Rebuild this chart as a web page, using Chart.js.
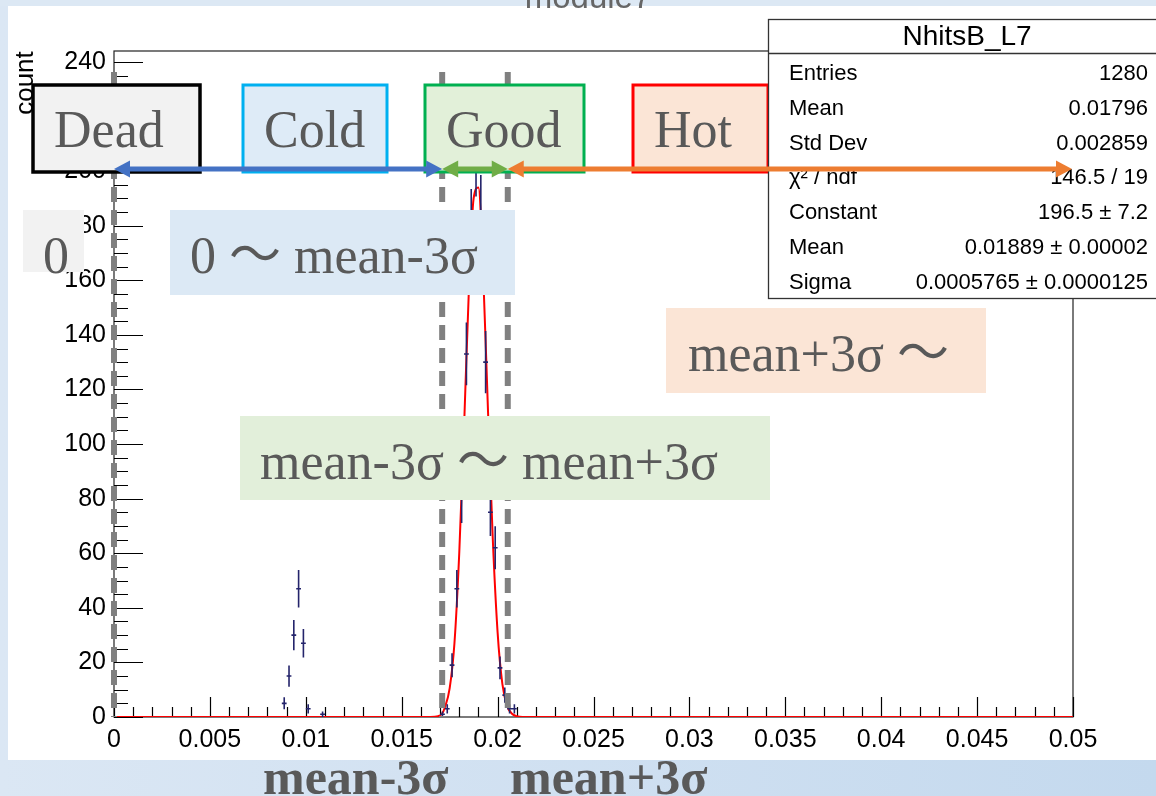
<!DOCTYPE html>
<html>
<head>
<meta charset="utf-8">
<script src="https://cdn.jsdelivr.net/npm/chart.js@4.4.1/dist/chart.umd.min.js"></script>
<style>
html,body{margin:0;padding:0;background:#dce8f4;overflow:hidden;}
#c{position:absolute;left:0;top:0;}
</style>
</head>
<body>
<canvas id="c" width="1156" height="796"></canvas>
<script>
// ---------------- DATA ----------------
const binWidth = 0.00025;
const binCenters = [0.008875, 0.009125, 0.009375, 0.009625, 0.009875, 0.010125, 0.010875,
  0.017125, 0.017375, 0.017625, 0.017875, 0.018125, 0.018375, 0.018625, 0.018875,
  0.019125, 0.019375, 0.019625, 0.019875, 0.020125, 0.020375, 0.020625, 0.020875];
const binCounts = [5, 15, 30, 47, 27, 3, 1,
  1, 3, 19, 47, 80, 133, 180, 205,
  185, 130, 75, 62, 18, 8, 3, 3];
const binErrors = [2.2, 3.9, 5.5, 6.9, 5.2, 1.7, 1.0,
  1.0, 1.7, 4.4, 6.9, 8.9, 11.5, 13.4, 14.3,
  13.6, 11.4, 8.7, 7.9, 4.2, 2.8, 1.7, 1.7];

const fitX = [0, 0.0165, 0.0169, 0.0171, 0.01725, 0.0175, 0.01775, 0.018, 0.01825, 0.0185, 0.01875,
  0.019, 0.01925, 0.0195, 0.01975, 0.02, 0.02025, 0.0205, 0.02075, 0.021, 0.0213, 0.05];
const fitY = [0, 0, 0.3, 1.2, 3.5, 10.5, 27, 60, 106, 156, 190,
  194, 162, 112, 65, 31, 12, 4, 1.2, 0.3, 0, 0];

const xTickValues = [0, 0.005, 0.01, 0.015, 0.02, 0.025, 0.03, 0.035, 0.04, 0.045, 0.05];
const xTickLabels = ['0', '0.005', '0.01', '0.015', '0.02', '0.025', '0.03', '0.035', '0.04', '0.045', '0.05'];
const yTickValues = [0, 20, 40, 60, 80, 100, 120, 140, 160, 180, 200, 220, 240];
const yTickLabels = ['0', '20', '40', '60', '80', '100', '120', '140', '160', '180', '200', '220', '240'];

// cut positions: 0, mean-3σ, mean+3σ (dashed lines)
const cutX = [0, 0.01711, 0.02053];

const statsTitle = 'NhitsB_L7';
const statsLabels = ['Entries', 'Mean', 'Std Dev', 'χ² / ndf', 'Constant', 'Mean', 'Sigma'];
const statsValues = ['1280', '0.01796', '0.002859', '146.5 / 19', '196.5 ± 7.2', '0.01889 ± 0.00002', '0.0005765 ± 0.0000125'];

const boxLabels = ['Dead', 'Cold', 'Good', 'Hot'];
const rangeLabels = ['0', '0 〜 mean-3σ', 'mean+3σ 〜', 'mean-3σ 〜 mean+3σ'];
const bottomLabels = ['mean-3σ', 'mean+3σ'];

// ---------------- STYLE ----------------
const SANS = '"Liberation Sans", Arial, Helvetica, sans-serif';
const SERIF = '"Liberation Serif", "Times New Roman", "Noto Sans CJK JP", serif';
const histColor = '#24246b';
const textGrey = '#595959';

const topBoxes = [
  {x: 33, y: 85, w: 167, h: 87, fill: '#f2f2f2', stroke: '#000000', lw: 3.5},
  {x: 243, y: 85, w: 144, h: 87, fill: '#deebf7', stroke: '#00b0f0', lw: 3},
  {x: 425, y: 85, w: 159, h: 87, fill: '#e2f0d9', stroke: '#00b050', lw: 3},
  {x: 633, y: 85, w: 135, h: 87, fill: '#fbe5d6', stroke: '#ff0000', lw: 3}
];
const rangeBoxes = [
  {x: 23, y: 210, w: 61, h: 62, fill: '#f2f2f2', tx: 43, ty: 273},
  {x: 170, y: 210, w: 345, h: 85, fill: '#dce9f5', tx: 190, ty: 273},
  {x: 666, y: 308, w: 320, h: 85, fill: '#fbe5d6', tx: 688, ty: 371},
  {x: 240, y: 416, w: 530, h: 84, fill: '#e2efda', tx: 260, ty: 479}
];

// ---------------- PLUGINS ----------------
const bgPlugin = {
  id: 'bg',
  beforeDraw(chart) {
    const ctx = chart.ctx, W = chart.width, H = chart.height;
    ctx.save();
    const g = ctx.createLinearGradient(0, 0, W, 0);
    g.addColorStop(0, '#dbe7f4');
    g.addColorStop(1, '#c4d9ee');
    ctx.fillStyle = g;
    ctx.fillRect(0, 0, W, H);
    ctx.fillStyle = '#dce8f4';
    ctx.fillRect(0, 0, W, 6);
    ctx.fillStyle = '#ffffff';
    ctx.fillRect(8, 6, W - 8, 760 - 6);
    ctx.restore();
  }
};

const framePlugin = {
  id: 'frame',
  beforeDatasetsDraw(chart) {
    const {ctx, chartArea: a, scales: {x, y}} = chart;
    ctx.save();
    ctx.strokeStyle = '#222';
    ctx.lineWidth = 1.2;
    ctx.strokeRect(a.left, a.top, a.right - a.left, a.bottom - a.top);
    ctx.strokeStyle = '#000';
    ctx.beginPath();
    for (let k = 0; k <= 50; k++) {
      const px = Math.round(x.getPixelForValue(k * 0.001)) + 0.5;
      const len = (k % 5 === 0) ? 20 : 10;
      ctx.moveTo(px, a.bottom);
      ctx.lineTo(px, a.bottom - len);
    }
    for (let k = 0; k <= 48; k++) {
      const py = Math.round(y.getPixelForValue(k * 5)) + 0.5;
      const len = (k % 4 === 0) ? 29 : 14;
      ctx.moveTo(a.left, py);
      ctx.lineTo(a.left + len, py);
    }
    ctx.stroke();
    ctx.restore();
  }
};

const errPlugin = {
  id: 'errbars',
  afterDatasetsDraw(chart) {
    const {ctx, scales: {x, y}} = chart;
    ctx.save();
    ctx.strokeStyle = histColor;
    ctx.lineWidth = 1.6;
    ctx.beginPath();
    binCenters.forEach((c, i) => {
      const px = x.getPixelForValue(c);
      const py = y.getPixelForValue(binCounts[i]);
      const xl = x.getPixelForValue(c - binWidth / 2);
      const xr = x.getPixelForValue(c + binWidth / 2);
      const yt = y.getPixelForValue(binCounts[i] + binErrors[i]);
      const yb = y.getPixelForValue(Math.max(0, binCounts[i] - binErrors[i]));
      ctx.moveTo(xl, py); ctx.lineTo(xr, py);
      ctx.moveTo(px, yt); ctx.lineTo(px, yb);
    });
    ctx.stroke();
    ctx.restore();
  }
};

function arrow(ctx, x1, x2, yy, color) {
  const hl = 16, hw = 8.5;
  ctx.strokeStyle = color;
  ctx.fillStyle = color;
  ctx.lineWidth = 5;
  ctx.beginPath();
  ctx.moveTo(x1 + hl * 0.6, yy);
  ctx.lineTo(x2 - hl * 0.6, yy);
  ctx.stroke();
  ctx.beginPath();
  ctx.moveTo(x1, yy); ctx.lineTo(x1 + hl, yy - hw); ctx.lineTo(x1 + hl, yy + hw); ctx.closePath();
  ctx.fill();
  ctx.beginPath();
  ctx.moveTo(x2, yy); ctx.lineTo(x2 - hl, yy - hw); ctx.lineTo(x2 - hl, yy + hw); ctx.closePath();
  ctx.fill();
}

const annoPlugin = {
  id: 'anno',
  afterDraw(chart) {
    const {ctx, scales: {x, y}} = chart;
    ctx.save();
    // y-axis title
    ctx.save();
    ctx.translate(33, 83);
    ctx.rotate(-Math.PI / 2);
    ctx.font = '26px ' + SANS;
    ctx.fillStyle = '#000';
    ctx.textAlign = 'center';
    ctx.textBaseline = 'alphabetic';
    ctx.fillText('count', 0, 0);
    ctx.restore();

    // dashed cut lines
    ctx.strokeStyle = '#808080';
    ctx.lineWidth = 6;
    ctx.setLineDash([15, 8]);
    cutX.forEach(v => {
      const px = x.getPixelForValue(v);
      ctx.beginPath();
      ctx.moveTo(px, 72);
      ctx.lineTo(px, y.getPixelForValue(0));
      ctx.stroke();
    });
    ctx.setLineDash([]);

    // range boxes
    ctx.font = '52px ' + SERIF;
    ctx.textAlign = 'left';
    ctx.textBaseline = 'alphabetic';
    rangeBoxes.forEach((b, i) => {
      ctx.fillStyle = b.fill;
      ctx.fillRect(b.x, b.y, b.w, b.h);
      ctx.fillStyle = textGrey;
      ctx.fillText(rangeLabels[i], b.tx, b.ty);
    });

    // top boxes
    topBoxes.forEach((b, i) => {
      ctx.fillStyle = b.fill;
      ctx.fillRect(b.x, b.y, b.w, b.h);
      ctx.strokeStyle = b.stroke;
      ctx.lineWidth = b.lw;
      ctx.strokeRect(b.x, b.y, b.w, b.h);
      ctx.fillStyle = textGrey;
      ctx.fillText(boxLabels[i], b.x + 21, 147);
    });

    // stats box
    const sx = 768, sy = 19, sw = 400, sh = 279;
    ctx.fillStyle = '#fff';
    ctx.fillRect(sx, sy, sw, sh);
    ctx.strokeStyle = '#333';
    ctx.lineWidth = 1.3;
    ctx.strokeRect(sx + 0.5, sy + 0.5, sw, sh);
    ctx.beginPath();
    ctx.moveTo(sx, 53.5); ctx.lineTo(sx + sw, 53.5);
    ctx.stroke();
    ctx.fillStyle = '#000';
    ctx.font = '28px ' + SANS;
    ctx.textAlign = 'center';
    ctx.fillText(statsTitle, 967, 45);
    ctx.font = '22px ' + SANS;
    statsLabels.forEach((l, i) => {
      const yy = 80 + i * 34.75;
      ctx.textAlign = 'left';
      ctx.fillText(l, 789, yy);
      ctx.textAlign = 'right';
      ctx.fillText(statsValues[i], 1148, yy);
    });

    // arrows
    const ay = 169;
    const p0 = x.getPixelForValue(cutX[0]);
    const p1 = x.getPixelForValue(cutX[1]);
    const p2 = x.getPixelForValue(cutX[2]);
    const pe = x.getPixelForValue(0.05);
    arrow(ctx, p0, p1, ay, '#4472c4');
    arrow(ctx, p1, p2, ay, '#70ad47');
    arrow(ctx, p2, pe - 1, ay, '#ed7d31');

    // bottom labels
    ctx.font = 'bold 50px ' + SERIF;
    ctx.fillStyle = textGrey;
    ctx.textAlign = 'left';
    ctx.fillText(bottomLabels[0], 263, 794);
    ctx.fillText(bottomLabels[1], 510, 794);

    // clipped histogram title at top
    ctx.save();
    ctx.beginPath();
    ctx.rect(0, 0, 1156, 12);
    ctx.clip();
    ctx.font = '33px ' + SANS;
    ctx.fillStyle = '#666';
    ctx.textAlign = 'center';
    ctx.fillText('module7', 588, 8);
    ctx.restore();

    ctx.restore();
  }
};

// ---------------- CHART ----------------
const ctx = document.getElementById('c').getContext('2d');
new Chart(ctx, {
  type: 'scatter',
  data: {
    datasets: [
      {
        label: 'NhitsB_L7',
        data: binCenters.map((c, i) => ({x: c, y: binCounts[i]})),
        pointRadius: 0,
        showLine: false,
        borderColor: histColor,
        backgroundColor: histColor
      },
      {
        label: 'gaus fit',
        type: 'line',
        data: fitX.map((v, i) => ({x: v, y: fitY[i]})),
        borderColor: '#ff0000',
        borderWidth: 2,
        pointRadius: 0,
        fill: false,
        cubicInterpolationMode: 'monotone'
      }
    ]
  },
  options: {
    responsive: false,
    animation: false,
    devicePixelRatio: 1,
    layout: {padding: {left: 0, top: 51, right: 83, bottom: 0}},
    plugins: {legend: {display: false}, tooltip: {enabled: false}, title: {display: false}},
    scales: {
      x: {
        type: 'linear',
        min: 0, max: 0.05,
        afterBuildTicks: s => { s.ticks = xTickValues.map(v => ({value: v})); },
        afterFit: s => { s.height = 79; },
        grid: {display: false, drawTicks: false},
        border: {display: false},
        ticks: {
          callback: (v, i) => xTickLabels[i],
          font: {family: SANS, size: 25},
          color: '#000',
          padding: 8,
          autoSkip: false,
          maxRotation: 0
        }
      },
      y: {
        type: 'linear',
        min: 0, max: 244,
        afterBuildTicks: s => { s.ticks = yTickValues.map(v => ({value: v})); },
        afterFit: s => { s.width = 114; },
        grid: {display: false, drawTicks: false},
        border: {display: false},
        ticks: {
          callback: (v, i) => yTickLabels[i],
          font: {family: SANS, size: 25},
          color: '#000',
          padding: 8,
          autoSkip: false
        }
      }
    }
  },
  plugins: [bgPlugin, framePlugin, errPlugin, annoPlugin]
});
</script>
</body>
</html>
